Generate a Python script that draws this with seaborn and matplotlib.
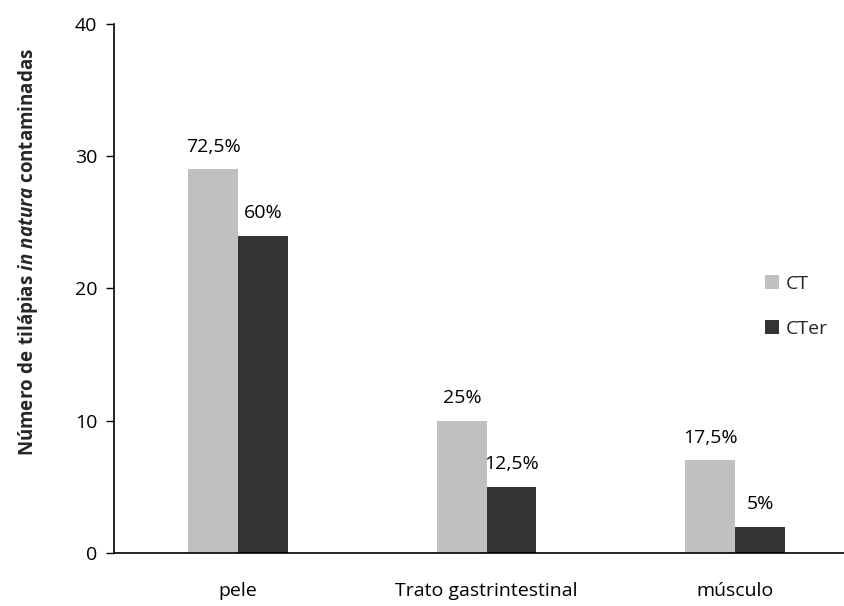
import pandas as pd
import matplotlib.pyplot as plt
import seaborn as sns

# Dados do gráfico
Regioes = ['pele', 'Trato gastrintestinal', 'músculo']
Valores_CT = [29, 10, 7]
Valores_CTer = [24, 5, 2]
Rotulos_CT = ['72,5%', '25%', '17,5%']
Rotulos_CTer = ['60%', '12,5%', '5%']
Grupos = ['CT', 'CTer']
Cores = {'CT': '#c0c0c0', 'CTer': '#333333'}
Ticks_Y = [0, 10, 20, 30, 40]

# Montar o DataFrame em formato longo.
df = pd.DataFrame({
    'regiao': Regioes * 2,
    'grupo': ['CT'] * len(Regioes) + ['CTer'] * len(Regioes),
    'valor': Valores_CT + Valores_CTer,
})

sns.set_theme(style='white')
plt.rcParams['font.family'] = ['Open Sans', 'DejaVu Sans']
plt.rcParams['mathtext.fontset'] = 'custom'
plt.rcParams['mathtext.rm'] = 'Open Sans'
plt.rcParams['mathtext.bf'] = 'Open Sans:bold'
plt.rcParams['mathtext.it'] = 'Open Sans:italic:bold'

Figure = plt.figure(figsize=(8.44, 6.06), dpi=100)
Grafico = Figure.add_axes([0.135, 0.0875, 0.865, 0.873])

sns.barplot(data=df, x='regiao', y='valor', hue='grupo', order=Regioes, hue_order=Grupos,
            palette=Cores, width=0.4, gap=0, saturation=1, ax=Grafico, edgecolor='none')

# Rótulos de porcentagem acima das barras.
for Container, Rotulos in zip(Grafico.containers, [Rotulos_CT, Rotulos_CTer]):
    Grafico.bar_label(Container, labels=Rotulos, padding=10, fontsize=14, color='black')

Grafico.set_ylim(0, 40)
Grafico.set_yticks(Ticks_Y)
Grafico.set_xlim(-0.5, 2.438)
Grafico.tick_params(axis='y', left=True, length=6, width=1, pad=6, labelsize=14, colors='black')
Grafico.tick_params(axis='x', bottom=False, pad=15, labelsize=14, colors='black')
Grafico.set_xlabel('')
Grafico.set_ylabel(r'$\mathbf{Número\ de\ tilápias}$ $\mathit{in\ natura}$ $\mathbf{contaminadas}$',
                   fontsize=13.5)
Grafico.yaxis.set_label_coords(-0.101, 0.569)

for Lado in ['top', 'right']:
    Grafico.spines[Lado].set_visible(False)
for Lado in ['left', 'bottom']:
    Grafico.spines[Lado].set_color('black')
    Grafico.spines[Lado].set_linewidth(1.2)

# Legenda à direita.
Grafico.legend(title=None, loc='center left', bbox_to_anchor=(0.868, 0.466), frameon=False,
               fontsize=14, handlelength=0.7, handleheight=0.7, handletextpad=0.35,
               labelspacing=1.4)

plt.savefig('out.png', dpi=100)
